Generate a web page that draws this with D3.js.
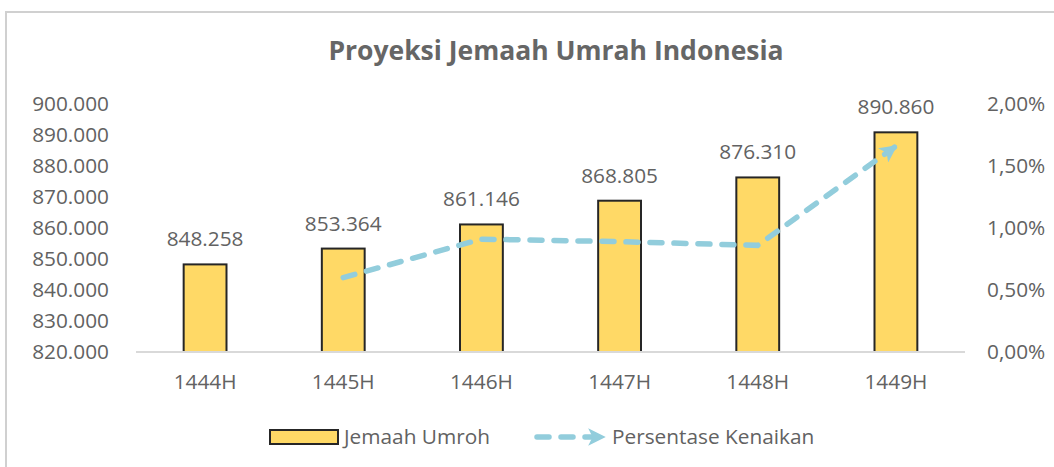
<!DOCTYPE html>
<html>
<head>
<meta charset="utf-8">
<script src="https://cdn.jsdelivr.net/npm/d3@7"></script>
<style>
  body { margin: 0; background: #fff; }
  text { font-family: 'Open Sans', sans-serif; fill: #626262; }
</style>
</head>
<body>
<svg id="chart" width="1054" height="467"></svg>
<script>
// data
let years = ['1444H', '1445H', '1446H', '1447H', '1448H', '1449H'];
let jemaah = [848258, 853364, 861146, 868805, 876310, 890860];
let kenaikan = [null, 0.0060, 0.0091, 0.0089, 0.0086, 0.0166]; // persentase kenaikan
let leftTicks = [820000, 830000, 840000, 850000, 860000, 870000, 880000, 890000, 900000];
let rightTicks = [0, 0.005, 0.01, 0.015, 0.02];

let svg = d3.select('#chart');
let plotLeft = 136, plotRight = 965, plotTop = 104, plotBottom = 352;

// outer chart border (only top + left show in the crop)
svg.append('path')
   .attr('d', 'M6,467 L6,12 L1054,12')
   .attr('fill', 'none')
   .attr('stroke', '#d0d0d0')
   .attr('stroke-width', 2);

svg.append('text')
   .attr('x', 556).attr('y', 60)
   .attr('text-anchor', 'middle')
   .style('font-size', '26.5px')
   .style('font-weight', 'bold')
   .style('fill', '#666')
   .text('Proyeksi Jemaah Umrah Indonesia');

let x = d3.scaleBand().domain(years).range([plotLeft, plotRight]).paddingInner(0.69).paddingOuter(0.345);
let y = d3.scaleLinear().domain([820000, 900000]).range([plotBottom, plotTop]);
let y2 = d3.scaleLinear().domain([0, 0.02]).range([plotBottom, plotTop]);

let fmtNum = d3.formatLocale({decimal: ',', thousands: '.', grouping: [3], currency: ['', '']});
let fmtThousand = fmtNum.format(',.0f');
let fmtPct = fmtNum.format('.2%');

// left axis
let yAxis = d3.axisLeft(y).tickValues(leftTicks).tickSize(0).tickPadding(0).tickFormat(fmtThousand);
let gy = svg.append('g').attr('transform', 'translate(109,0)').call(yAxis);
gy.select('.domain').remove();

// right axis
let y2Axis = d3.axisRight(y2).tickValues(rightTicks).tickSize(0).tickPadding(0).tickFormat(fmtPct);
let gy2 = svg.append('g').attr('transform', 'translate(987,0)').call(y2Axis);
gy2.select('.domain').remove();

// bottom axis
let xAxis = d3.axisBottom(x).tickSize(0).tickPadding(0);
let gx = svg.append('g').attr('transform', 'translate(0,' + plotBottom + ')').call(xAxis);
gx.select('.domain').remove();
gx.selectAll('.tick text').attr('dy', '37px');

svg.selectAll('.tick text')
   .style('font-size', '20.8px')
   .style('font-family', "'Open Sans', sans-serif")
   .attr('fill', '#626262');

// bars
svg.append('g').selectAll('rect')
   .data(jemaah)
   .enter().append('rect')
   .attr('x', (d, i) => x(years[i]))
   .attr('y', d => y(d))
   .attr('width', x.bandwidth())
   .attr('height', d => plotBottom - y(d))
   .attr('fill', '#FFD966')
   .attr('stroke', '#262626')
   .attr('stroke-width', 2);

svg.append('line')
   .attr('x1', plotLeft).attr('x2', plotRight)
   .attr('y1', plotBottom).attr('y2', plotBottom)
   .attr('stroke', '#d9d9d9')
   .attr('stroke-width', 2);

// value labels
svg.append('g').selectAll('text')
   .data(jemaah)
   .enter().append('text')
   .attr('x', (d, i) => x(years[i]) + x.bandwidth() / 2)
   .attr('y', d => y(d) - 18)
   .attr('text-anchor', 'middle')
   .style('font-size', '20.8px')
   .text(d => fmtThousand(d));

// arrow marker
let defs = svg.append('defs');
defs.append('marker')
    .attr('id', 'arrow')
    .attr('viewBox', '0 0 10 10')
    .attr('refX', 9).attr('refY', 5)
    .attr('markerWidth', 3.2).attr('markerHeight', 3.2)
    .attr('markerUnits', 'strokeWidth')
    .attr('orient', 'auto')
  .append('path')
    .attr('d', 'M0,0 L10,5 L0,10 L2.5,5 Z')
    .attr('fill', '#92CDDC');

let lineData = kenaikan.map((d, i) => ({year: years[i], v: d})).filter(d => d.v !== null);
let line = d3.line()
             .x(d => x(d.year) + x.bandwidth() / 2)
             .y(d => y2(d.v));

svg.append('path')
   .attr('d', line(lineData))
   .attr('fill', 'none')
   .attr('stroke', '#92CDDC')
   .attr('stroke-width', 5.5)
   .attr('stroke-linecap', 'round')
   .attr('stroke-dasharray', '12,12')
   .attr('marker-end', 'url(#arrow)');

// legend
let lg = svg.append('g');
lg.append('rect')
  .attr('x', 270).attr('y', 430)
  .attr('width', 68).attr('height', 14)
  .attr('fill', '#FFD966')
  .attr('stroke', '#262626')
  .attr('stroke-width', 2);
lg.append('text')
  .attr('x', 344).attr('y', 444)
  .style('font-size', '20.8px')
  .text('Jemaah Umroh');
lg.append('path')
  .attr('d', 'M537,437 L604,437')
  .attr('fill', 'none')
  .attr('stroke', '#92CDDC')
  .attr('stroke-width', 5.5)
  .attr('stroke-linecap', 'round')
  .attr('stroke-dasharray', '12,12')
  .attr('marker-end', 'url(#arrow)');
lg.append('text')
  .attr('x', 612).attr('y', 444)
  .style('font-size', '20.8px')
  .text('Persentase Kenaikan');
</script>
</body>
</html>
